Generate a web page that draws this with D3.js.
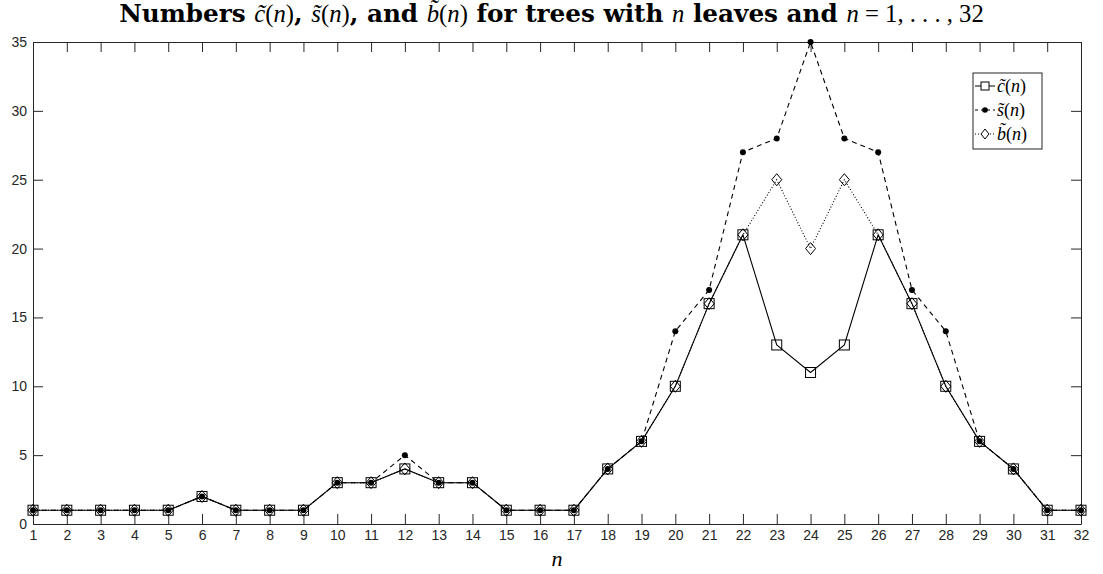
<!DOCTYPE html>
<html>
<head>
<meta charset="utf-8">
<style>
  body { margin: 0; background: #fff; }
  .tick text { font-family: "Liberation Sans", Arial, sans-serif; font-size: 14px; fill: #262626; }
  .tick line { stroke: #262626; }
  .domain { stroke: #262626; }
</style>
<script src="https://d3js.org/d3.v7.min.js"></script>
</head>
<body>
<div id="chart"></div>
<script>
// data
var nVals = d3.range(1, 33);
var cVals = [1,1,1,1,1,2,1,1,1,3,3,4,3,3,1,1,1,4,6,10,16,21,13,11,13,21,16,10,6,4,1,1];
var sVals = [1,1,1,1,1,2,1,1,1,3,3,5,3,3,1,1,1,4,6,14,17,27,28,35,28,27,17,14,6,4,1,1];
var bVals = [1,1,1,1,1,2,1,1,1,3,3,4,3,3,1,1,1,4,6,10,16,21,25,20,25,21,16,10,6,4,1,1];
var yTicks = [0,5,10,15,20,25,30,35];

var W = 1103, H = 574;
var margin = {top: 42, right: 22, bottom: 50, left: 33};
var width = W - margin.left - margin.right,
    height = H - margin.top - margin.bottom;

var svg = d3.select("#chart").append("svg")
    .attr("width", W).attr("height", H);
var g = svg.append("g")
    .attr("transform", "translate(" + margin.left + "," + margin.top + ")");

var x = d3.scaleLinear().domain([1, 32]).range([0, width]);
var y = d3.scaleLinear().domain([0, 35]).range([height, 0]);

// axes, MATLAB style with inward ticks and a box
var tl = 10;
g.append("g").attr("transform", "translate(0," + height + ")")
  .call(d3.axisBottom(x).tickValues(nVals).tickFormat(d3.format("d")).tickSizeInner(-tl).tickSizeOuter(0).tickPadding(6));
g.append("g").call(d3.axisTop(x).tickValues(nVals).tickFormat("").tickSizeInner(-tl).tickSizeOuter(0));
g.append("g")
  .call(d3.axisLeft(y).tickValues(yTicks).tickSizeInner(-tl).tickSizeOuter(0).tickPadding(6));
g.append("g").attr("transform", "translate(" + width + ",0)")
  .call(d3.axisRight(y).tickValues(yTicks).tickFormat("").tickSizeInner(-tl).tickSizeOuter(0));
g.selectAll(".domain").attr("stroke-width", 1);

var line = d3.line().x(function(d, i) { return x(nVals[i]); }).y(function(d) { return y(d); });

// c(n): solid with squares
g.append("path").datum(cVals).attr("d", line)
  .attr("fill", "none").attr("stroke", "#000").attr("stroke-width", 1.1);
g.selectAll(".sq").data(cVals).enter().append("rect")
  .attr("x", function(d, i) { return x(nVals[i]) - 5; })
  .attr("y", function(d) { return y(d) - 5; })
  .attr("width", 10).attr("height", 10)
  .attr("fill", "none").attr("stroke", "#000").attr("stroke-width", 1);

// s(n): dashed with dots
g.append("path").datum(sVals).attr("d", line)
  .attr("fill", "none").attr("stroke", "#000").attr("stroke-width", 1.1)
  .attr("stroke-dasharray", "5,4");
g.selectAll(".dot").data(sVals).enter().append("circle")
  .attr("cx", function(d, i) { return x(nVals[i]); })
  .attr("cy", function(d) { return y(d); })
  .attr("r", 3).attr("fill", "#000");

// b(n): dotted with diamonds
g.append("path").datum(bVals).attr("d", line)
  .attr("fill", "none").attr("stroke", "#000").attr("stroke-width", 1.1)
  .attr("stroke-dasharray", "1,2");
var diamond = "M0,-6L5,0L0,6L-5,0Z";
g.selectAll(".dia").data(bVals).enter().append("path")
  .attr("d", diamond)
  .attr("transform", function(d, i) { return "translate(" + x(nVals[i]) + "," + y(d) + ")"; })
  .attr("fill", "none").attr("stroke", "#000").attr("stroke-width", 1);

// title
var title = svg.append("text")
  .attr("x", W / 2).attr("y", 22).attr("text-anchor", "middle")
  .attr("font-family", "DejaVu Serif, serif").attr("font-size", 20)
  .attr("font-weight", "bold").attr("fill", "#000");
function plain(t) { title.append("tspan").text(t); }
function ital(t) { title.append("tspan").attr("font-family", "Liberation Serif, serif").attr("font-style", "italic").attr("font-weight", "normal").text(t); }
function norm(t) { title.append("tspan").attr("font-family", "Liberation Serif, serif").attr("font-weight", "normal").text(t); }
plain("Numbers ");
ital("c\u0303"); norm("("); ital("n"); norm(")"); plain(", ");
ital("s\u0303"); norm("("); ital("n"); norm(")"); plain(", and ");
ital("b\u0303"); norm("("); ital("n"); norm(")"); plain(" for trees with ");
ital("n"); plain(" leaves and ");
ital("n"); norm(" = 1, . . . , 32");
// fit the title to the width it has in the original
var tw = title.node().getComputedTextLength();
title.attr("font-size", 20 * 865 / tw);

// x label
svg.append("text").attr("x", margin.left + width / 2).attr("y", 566)
  .attr("text-anchor", "middle").attr("font-family", "Liberation Serif, serif")
  .attr("font-style", "italic").attr("font-size", 22).text("n");

// legend
var leg = svg.append("g").attr("transform", "translate(973,73)");
leg.append("rect").attr("width", 69).attr("height", 76)
  .attr("fill", "#fff").attr("stroke", "#262626").attr("stroke-width", 1);
var items = [
  {name: "c", dash: null},
  {name: "s", dash: "3,3"},
  {name: "b", dash: "1,2"}
];
items.forEach(function(it, k) {
  var yy = 13 + k * 24;
  leg.append("line").attr("x1", 2).attr("x2", 22).attr("y1", yy).attr("y2", yy)
    .attr("stroke", "#000").attr("stroke-width", 1).attr("stroke-dasharray", it.dash);
  if (k === 0) leg.append("rect").attr("x", 8).attr("y", yy - 4).attr("width", 8).attr("height", 8)
    .attr("fill", "#fff").attr("stroke", "#000");
  if (k === 1) leg.append("circle").attr("cx", 12).attr("cy", yy).attr("r", 2.8).attr("fill", "#000");
  if (k === 2) leg.append("path").attr("d", "M0,-5L4,0L0,5L-4,0Z")
    .attr("transform", "translate(12," + yy + ")").attr("fill", "#fff").attr("stroke", "#000");
  var t = leg.append("text").attr("x", 24).attr("y", yy + 6)
    .attr("font-family", "Liberation Serif, serif").attr("font-size", 18);
  t.append("tspan").attr("font-style", "italic").text(it.name + "\u0303");
  t.append("tspan").text("(");
  t.append("tspan").attr("font-style", "italic").text("n");
  t.append("tspan").text(")");
});
</script>
</body>
</html>
